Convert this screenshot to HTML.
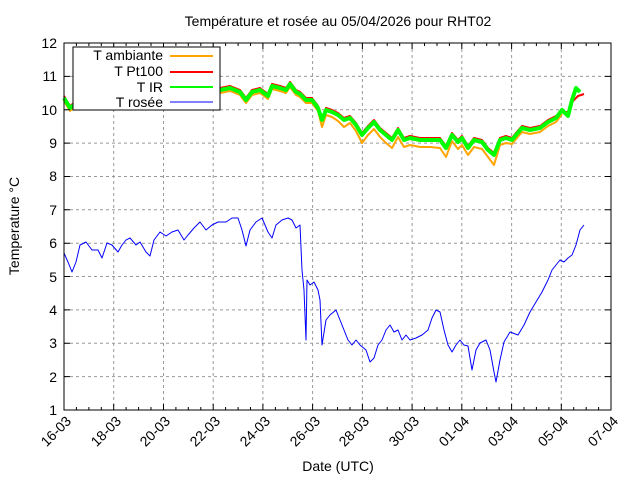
<!DOCTYPE html>
<html><head><meta charset="utf-8"><style>body{margin:0;background:#fff}svg{display:block;font-family:"Liberation Sans",sans-serif}</style></head><body>
<svg width="640" height="480" viewBox="0 0 640 480">
<rect width="640" height="480" fill="#fff"/>
<g stroke="#999" stroke-dasharray="3,3" stroke-width="1">
<line x1="64" y1="76.4" x2="611" y2="76.4"/><line x1="64" y1="109.7" x2="611" y2="109.7"/><line x1="64" y1="143.1" x2="611" y2="143.1"/><line x1="64" y1="176.5" x2="611" y2="176.5"/><line x1="64" y1="209.8" x2="611" y2="209.8"/><line x1="64" y1="243.2" x2="611" y2="243.2"/><line x1="64" y1="276.5" x2="611" y2="276.5"/><line x1="64" y1="309.9" x2="611" y2="309.9"/><line x1="64" y1="343.3" x2="611" y2="343.3"/><line x1="64" y1="376.6" x2="611" y2="376.6"/>
<line x1="113.7" y1="43" x2="113.7" y2="410"/><line x1="163.5" y1="43" x2="163.5" y2="410"/><line x1="213.2" y1="43" x2="213.2" y2="410"/><line x1="262.9" y1="43" x2="262.9" y2="410"/><line x1="312.6" y1="43" x2="312.6" y2="410"/><line x1="362.4" y1="43" x2="362.4" y2="410"/><line x1="412.1" y1="43" x2="412.1" y2="410"/><line x1="461.8" y1="43" x2="461.8" y2="410"/><line x1="511.6" y1="43" x2="511.6" y2="410"/><line x1="561.3" y1="43" x2="561.3" y2="410"/>
</g>
<g fill="none" stroke-linejoin="round">
<polyline stroke="#ffa500" stroke-width="2" transform="translate(0,3)" points="64,98 70,108 80,100 100,100 120,100 140,100 160,100 180,98 200,92 220,90 230,88 240,92 246,100 252,92 260,90 268,96 272,86 280,88 286,90 290,84 296,92 300,94 306,100 312,100 318,108 322,124 326,112 332,114 338,118 344,124 350,120 356,128 362,140 368,132 374,126 380,134 386,140 392,145 398,134 404,144 410,142 420,144 430,144 440,145 446,154 452,138 458,146 462,142 468,152 474,144 482,146 488,154 494,162 500,142 506,140 512,141 516,136 522,129 530,131 540,129 548,123 556,119 562,111"/>
<polyline stroke="#f00" stroke-width="2" transform="translate(0,-2)" points="64,98 70,108 80,100 100,100 120,100 140,100 160,100 180,98 200,92 220,90 230,88 240,92 246,100 252,92 260,90 268,96 272,86 280,88 286,90 290,84 296,92 300,94 306,100 312,100 318,108 322,120 326,110 332,112 338,115 344,120 350,118 356,125 362,135 368,128 374,122 380,130 386,135 392,140 398,130 404,140 410,138 420,140 430,140 440,140 446,148 452,135 458,142 462,138 468,148 474,140 482,142 488,150 494,155 500,140 506,138 512,140 516,135 522,128 530,130 540,128 548,122 556,118 562,114 568,114 572,104 578,98 584,96"/>
<polyline stroke="#0f0" stroke-width="4" points="64,98 70,108 80,100 100,100 120,100 140,100 160,100 180,98 200,92 220,90 230,88 240,92 246,100 252,92 260,90 268,96 272,86 280,88 286,90 290,84 296,92 300,94 306,100 312,100 318,108 322,120 326,110 332,112 338,115 344,120 350,118 356,125 362,135 368,128 374,122 380,130 386,135 392,140 398,130 404,140 410,138 420,140 430,140 440,140 446,148 452,135 458,142 462,138 468,148 474,140 482,142 488,150 494,155 500,140 506,138 512,140 516,135 522,128 530,130 540,128 548,122 556,118 562,110 568,116 572,100 576,88 580,92"/>
<polyline stroke="#00f" stroke-width="1" points="64,253 68,262 72,272 76,262 80,245 86,242 92,250 98,250 102,258 107,243 112,245 118,252 122,245 126,240 130,238 136,245 140,242 146,252 150,256 154,240 160,232 166,236 172,232 178,230 184,240 188,235 194,228 200,222 206,230 212,225 218,222 226,222 232,218 238,218 242,230 246,246 250,230 256,222 262,218 268,232 272,238 276,225 282,220 288,218 292,220 296,228 300,225 302,270 304,290 306,340 307,280 310,285 314,282 318,290 320,300 322,345 326,320 330,315 336,310 340,320 344,330 348,340 352,345 356,340 360,345 366,350 370,362 374,358 378,345 382,340 386,330 390,325 394,332 398,330 402,340 406,335 410,340 416,338 422,335 428,330 432,318 436,310 440,312 444,330 448,345 452,352 456,345 460,340 464,345 468,346 472,370 476,350 480,343 486,340 490,350 494,372 496,382 500,360 504,342 510,332 518,335 524,325 530,312 536,302 542,292 548,280 552,270 556,265 560,260 564,262 568,258 572,255 576,245 580,230 584,225"/>
</g>
<g stroke="#000" stroke-width="1">
<path d="M64,76.4h6M64,109.7h6M64,143.1h6M64,176.5h6M64,209.8h6M64,243.2h6M64,276.5h6M64,309.9h6M64,343.3h6M64,376.6h6M611,76.4h-6M611,109.7h-6M611,143.1h-6M611,176.5h-6M611,209.8h-6M611,243.2h-6M611,276.5h-6M611,309.9h-6M611,343.3h-6M611,376.6h-6"/>
<path d="M113.7,410v-6M163.5,410v-6M213.2,410v-6M262.9,410v-6M312.6,410v-6M362.4,410v-6M412.1,410v-6M461.8,410v-6M511.6,410v-6M561.3,410v-6M113.7,43v6M163.5,43v6M213.2,43v6M262.9,43v6M312.6,43v6M362.4,43v6M412.1,43v6M461.8,43v6M511.6,43v6M561.3,43v6"/>
<path d="M76.4,410v-3M88.9,410v-3M101.3,410v-3M126.1,410v-3M138.6,410v-3M151,410v-3M175.9,410v-3M188.3,410v-3M200.8,410v-3M225.6,410v-3M238.1,410v-3M250.5,410v-3M275.4,410v-3M287.8,410v-3M300.2,410v-3M325.1,410v-3M337.5,410v-3M350,410v-3M374.8,410v-3M387.2,410v-3M399.7,410v-3M424.5,410v-3M437,410v-3M449.4,410v-3M474.3,410v-3M486.7,410v-3M499.1,410v-3M524,410v-3M536.4,410v-3M548.9,410v-3M573.7,410v-3M586.2,410v-3M598.6,410v-3"/>
<path d="M76.4,43v3M88.9,43v3M101.3,43v3M126.1,43v3M138.6,43v3M151,43v3M175.9,43v3M188.3,43v3M200.8,43v3M225.6,43v3M238.1,43v3M250.5,43v3M275.4,43v3M287.8,43v3M300.2,43v3M325.1,43v3M337.5,43v3M350,43v3M374.8,43v3M387.2,43v3M399.7,43v3M424.5,43v3M437,43v3M449.4,43v3M474.3,43v3M486.7,43v3M499.1,43v3M524,43v3M536.4,43v3M548.9,43v3M573.7,43v3M586.2,43v3M598.6,43v3"/>
</g>
<rect x="64" y="43" width="547" height="367" fill="none" stroke="#000" stroke-width="1"/>
<g font-size="14" text-anchor="end" fill="#000">
<text x="57" y="48">12</text><text x="57" y="81">11</text><text x="57" y="115">10</text><text x="57" y="148">9</text><text x="57" y="181">8</text><text x="57" y="215">7</text><text x="57" y="248">6</text><text x="57" y="282">5</text><text x="57" y="315">4</text><text x="57" y="348">3</text><text x="57" y="382">2</text><text x="57" y="415">1</text>
</g>
<g font-size="14" text-anchor="end">
<text transform="translate(72,422) rotate(-45)">16-03</text><text transform="translate(122,422) rotate(-45)">18-03</text><text transform="translate(171,422) rotate(-45)">20-03</text><text transform="translate(221,422) rotate(-45)">22-03</text><text transform="translate(271,422) rotate(-45)">24-03</text><text transform="translate(321,422) rotate(-45)">26-03</text><text transform="translate(370,422) rotate(-45)">28-03</text><text transform="translate(420,422) rotate(-45)">30-03</text><text transform="translate(470,422) rotate(-45)">01-04</text><text transform="translate(519,422) rotate(-45)">03-04</text><text transform="translate(569,422) rotate(-45)">05-04</text><text transform="translate(619,422) rotate(-45)">07-04</text>
</g>
<text x="338" y="471" font-size="14" text-anchor="middle">Date (UTC)</text>
<text transform="translate(19,226) rotate(-90)" font-size="14" text-anchor="middle">Temperature °C</text>
<text x="338" y="26" font-size="14" text-anchor="middle">Température et rosée au 05/04/2026 pour RHT02</text>
<rect x="73" y="47" width="147" height="63" fill="#fff" stroke="#000"/>
<g font-size="14" text-anchor="end">
<text x="163" y="60">T ambiante</text><text x="163" y="76">T Pt100</text><text x="163" y="92">T IR</text><text x="163" y="107">T rosée</text>
</g>
<line x1="170" y1="56" x2="213" y2="56" stroke="#ffa500" stroke-width="2"/>
<line x1="170" y1="72" x2="213" y2="72" stroke="#f00" stroke-width="2"/>
<line x1="170" y1="87" x2="213" y2="87" stroke="#0f0" stroke-width="2"/>
<line x1="170" y1="102" x2="213" y2="102" stroke="#00f" stroke-width="1"/>
</svg>
</body></html>
